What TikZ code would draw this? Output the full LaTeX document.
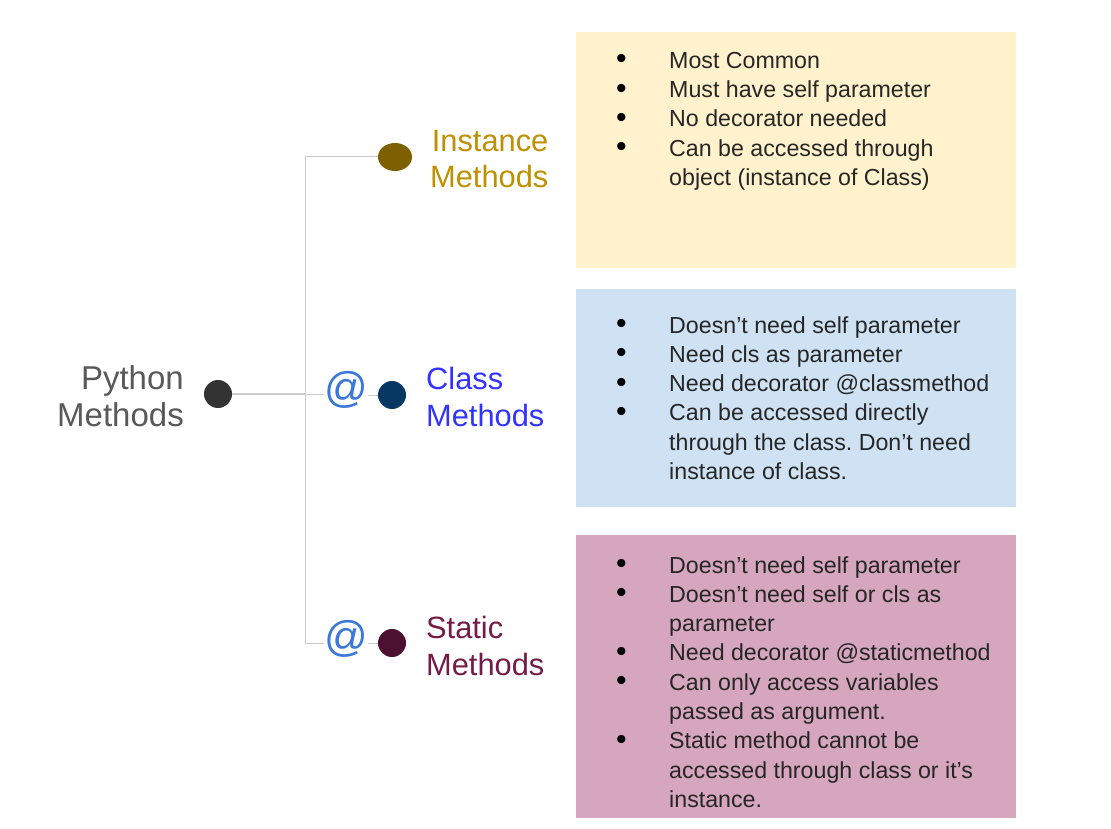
\documentclass[tikz,border=0pt]{standalone}
\usepackage{fontspec}
\setmainfont{Liberation Sans}
\usetikzlibrary{shapes.geometric}
\definecolor{yelbox}{HTML}{FFF2CC}
\definecolor{bluebox}{HTML}{CFE2F3}
\definecolor{pinkbox}{HTML}{D5A6BD}
\definecolor{pytxt}{HTML}{595959}
\definecolor{pydot}{HTML}{333333}
\definecolor{insttxt}{HTML}{BF9000}
\definecolor{instdot}{HTML}{7F6000}
\definecolor{clstxt}{HTML}{3333FF}
\definecolor{clsdot}{HTML}{073763}
\definecolor{sttxt}{HTML}{741B47}
\definecolor{stdot}{HTML}{4C1130}
\definecolor{atcol}{HTML}{3C78D8}
\definecolor{linecol}{HTML}{CCCCCC}
\frenchspacing
\newcommand{\itm}[1]{\makebox[52pt][l]{\hspace*{-1pt}\raisebox{-0.5pt}{\scalebox{1.3}{\textcolor{black}{\textbullet}}}}#1}
\newcommand{\cnt}[1]{\hspace*{52pt}#1}
\tikzset{
  box/.style={rectangle, draw=none, inner sep=0pt, anchor=north west},
  list/.style={inner sep=0pt, anchor=north west, align=left, text=black!85,
    font=\fontsize{23.2}{29.3}\selectfont},
  dotnode/.style={ellipse, inner sep=0pt, minimum width=28pt, minimum height=28pt},
  lbl/.style={inner sep=0pt, align=left, font=\fontsize{30.8}{36.5}\selectfont},
  atsym/.style={inner sep=0pt, text=atcol, font=\fontsize{43}{43}\selectfont},
  conn/.style={draw=linecol, line width=1.6pt},
}
\begin{document}
\begin{tikzpicture}[x=1pt,y=-1pt]
\fill[white] (0,0) rectangle (1111,829);
\useasboundingbox (0,0) rectangle (1111,829);
% boxes
\node[box, fill=yelbox, minimum width=440pt, minimum height=236pt] (ibox) at (576,32) {};
\node[box, fill=bluebox, minimum width=440pt, minimum height=218pt] (cbox) at (576,289) {};
\node[box, fill=pinkbox, minimum width=440pt, minimum height=283pt] (sbox) at (576,535) {};
\node[list] (itext) at (617,52) {\itm{Most Common}\\ \itm{Must have self parameter}\\ \itm{No decorator needed}\\ \itm{Can be accessed through}\\ \cnt{object (instance of Class)}};
\node[list] (ctext) at (617,316) {\itm{Doesn’t need self parameter}\\ \itm{Need cls as parameter}\\ \itm{Need decorator @classmethod}\\ \itm{Can be accessed directly}\\ \cnt{through the class. Don’t need}\\ \cnt{instance of class.}};
\node[list] (stext) at (617,556) {\itm{Doesn’t need self parameter}\\ \itm{Doesn’t need self or cls as}\\ \cnt{parameter}\\ \itm{Need decorator @staticmethod}\\ \itm{Can only access variables}\\ \cnt{passed as argument.}\\ \itm{Static method cannot be}\\ \cnt{accessed through class or it’s}\\ \cnt{instance.}};
% dots
\node[dotnode, fill=pydot] (pdot) at (218,394) {};
\node[dotnode, fill=instdot, minimum width=34pt] (idot) at (395,157) {};
\node[dotnode, fill=clsdot] (cdot) at (392,395) {};
\node[dotnode, fill=stdot] (sdot) at (392,643) {};
\node[atsym] (cat) at (346,390) {@};
\node[atsym] (sat) at (346,639) {@};
\coordinate (jtop) at (305,157);
\coordinate (jmid) at (305,394);
\coordinate (jbot) at (305,643);
% connectors
\draw[conn] (pdot.east) -- (jmid);
\draw[conn, line width=1pt] (jmid) -- (cat.west |- jmid);
\draw[conn, line width=1pt] (cat.east |- cdot) -- (cdot.west);
\draw[conn, line width=1pt] (idot.west) -- (jtop) -- (jbot) -- (sat.west |- jbot);
\draw[conn, line width=1pt] (sat.east |- sdot) -- (sdot.west);
% labels
\node[lbl, align=right, text=pytxt, anchor=east, font=\fontsize{33}{36.5}\selectfont] (plbl) at (184,396) {Python\\Methods};
\node[lbl, align=right, text=insttxt, anchor=west] (ilbl) at (430,159) {Instance\\Methods};
\node[lbl, text=clstxt, anchor=west] (clbl) at (426,397) {Class\\Methods};
\node[lbl, text=sttxt, anchor=west] (slbl) at (426,646) {Static\\Methods};
\end{tikzpicture}
\end{document}
